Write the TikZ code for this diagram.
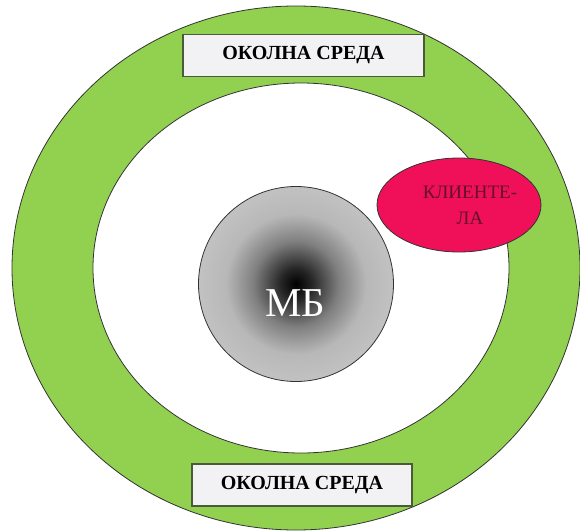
\documentclass[tikz,border=0pt]{standalone}
\usepackage{fontspec}
\setmainfont{Liberation Serif}
\usetikzlibrary{shapes.geometric}
\definecolor{EnvGreen}{HTML}{92D050}
\definecolor{BoxEdge}{HTML}{4A5A3A}
\definecolor{BoxFill}{HTML}{F2F2F4}
\definecolor{ClientPink}{HTML}{F0105A}
\definecolor{ClientText}{HTML}{641028}
\pgfdeclareradialshading{mbshade}{\pgfpointorigin}{color(0bp)=(black); color(4bp)=(black!85); color(11bp)=(black!50); color(18bp)=(black!28); color(25bp)=(black!24); color(50bp)=(black!24)}

\begin{document}
\begin{tikzpicture}[x=1pt, y=-1pt,
  ring/.style={draw=black!80, ellipse, inner sep=0pt, line width=0.8pt},
  envbox/.style={draw=BoxEdge, fill=BoxFill, line width=1.5pt, minimum height=42pt,
                 font=\fontsize{20}{23}\selectfont\bfseries}]
  \useasboundingbox (0,0) rectangle (580,530);
  \node[ring, fill=EnvGreen, minimum width=568pt, minimum height=524pt] (env) at (296,268) {};
  \node[ring, fill=white, minimum width=416pt, minimum height=370pt] (inner) at (301,268) {};
  \node[ring, circle, shade, shading=mbshade, minimum size=195pt] (mb) at (296,284) {};
  \node[font=\fontsize{41}{41}\selectfont, text=white] (mbtext) at (295,303) {МБ};
  \node[ring, fill=ClientPink, minimum width=164pt, minimum height=94pt] (client) at (459,205) {};
  \node[font=\fontsize{19}{26}\selectfont, text=ClientText, align=center]
    (clienttext) at (470,205) {КЛИЕНТЕ-\\ЛА};
  \node[envbox, minimum width=241pt] (envtop) at (303.5,55.5) {ОКОЛНА СРЕДА};
  \node[envbox, minimum width=220pt] (envbottom) at (302,485) {ОКОЛНА СРЕДА};
\end{tikzpicture}
\end{document}
